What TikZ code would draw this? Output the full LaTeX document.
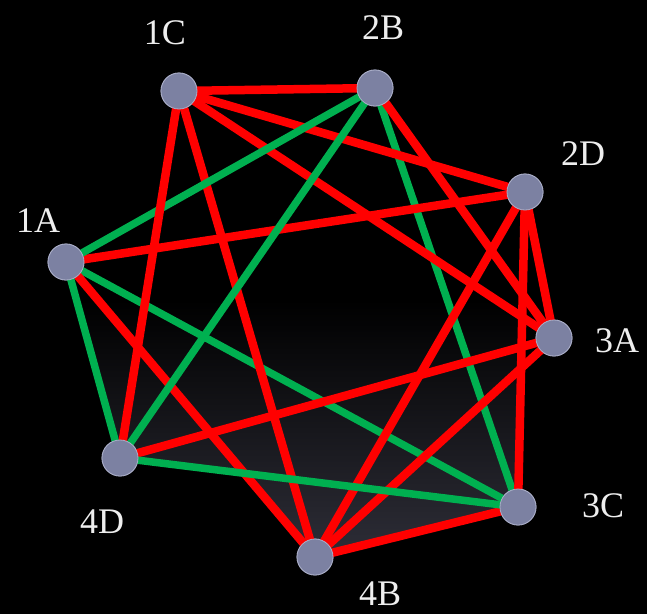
\documentclass[tikz,border=0pt]{standalone}
\usepackage{fontspec}
\setmainfont{Liberation Serif}
\definecolor{redE}{RGB}{255,0,0}
\definecolor{greenE}{RGB}{0,176,80}
\definecolor{vfill}{RGB}{124,129,162}
\definecolor{vline}{RGB}{170,174,200}
\definecolor{labc}{RGB}{238,238,238}
\definecolor{bot}{RGB}{46,46,56}
\tikzset{
  vert/.style={circle,fill=vfill,draw=vline,line width=0.8pt,minimum size=36pt,inner sep=0pt},
  lab/.style={text=labc,font=\fontsize{36}{40}\selectfont,inner sep=0pt},
  redge/.style={draw=redE,line width=8.5pt},
  gedge/.style={draw=greenE,line width=7.5pt}
}
\begin{document}
\begin{tikzpicture}[x=1pt,y=-1pt]
\fill[black] (0,0) rectangle (647,614);
\useasboundingbox (0,0) rectangle (647,614);
% vertex positions
\coordinate (p1C) at (179,91);
\coordinate (p2B) at (375,88);
\coordinate (p2D) at (525,192);
\coordinate (p3A) at (554,338);
\coordinate (p3C) at (518,507);
\coordinate (p4B) at (315,557);
\coordinate (p4D) at (120,458);
\coordinate (p1A) at (66,262);
\coordinate (pX) at (intersection of p4D--p3C and p1A--p4B);
% background shading (lower half only)
\begin{scope}
  \clip (p1C) -- (p2B) -- (p2D) -- (p3C) -- (p4B) -- (pX) -- (p4D) -- (p1A) -- cycle;
  \shade[top color=black,bottom color=bot] (0,300) rectangle (647,560);
\end{scope}
% nodes
\path (p1C) node[vert] (n1C) {};
\path (p2B) node[vert] (n2B) {};
\path (p2D) node[vert] (n2D) {};
\path (p3A) node[vert] (n3A) {};
\path (p3C) node[vert] (n3C) {};
\path (p4B) node[vert] (n4B) {};
\path (p4D) node[vert] (n4D) {};
\path (p1A) node[vert] (n1A) {};
% edges
\path[gedge] (n1A.center) -- (n3C.center);
\path[gedge] (n2B.center) -- (n3C.center);
\path[redge] (n1C.center) -- (n2B.center);
\path[redge] (n1C.center) -- (n2D.center);
\path[redge] (n1C.center) -- (n3A.center);
\path[redge] (n1C.center) -- (n4B.center);
\path[redge] (n1A.center) -- (n2D.center);
\path[redge] (n1A.center) -- (n4B.center);
\path[redge] (n2B.center) -- (n3A.center);
\path[redge] (n2D.center) -- (n3A.center);
\path[redge] (n2D.center) -- (n3C.center);
\path[redge] (n2D.center) -- (n4B.center);
\path[redge] (n3A.center) -- (n4B.center);
\path[redge] (n3A.center) -- (n4D.center);
\path[redge] (n3C.center) -- (n4B.center);
\path[gedge] (n1A.center) -- (n2B.center);
\path[gedge] (n2B.center) -- (n4D.center);
\path[gedge] (n1A.center) -- (n4D.center);
\path[gedge] (n4D.center) -- (n3C.center);
\path[redge] (n1C.center) -- (n4D.center);
% redraw nodes on top
\foreach \v in {1C,2B,2D,3A,3C,4B,4D,1A}{
  \path (p\v) node[vert] {};
}
% labels
\node[lab] (l1C) at (165,33) {1C};
\node[lab] (l2B) at (383,28) {2B};
\node[lab] (l2D) at (583,154) {2D};
\node[lab] (l3A) at (617,341) {3A};
\node[lab] (l3C) at (603,506) {3C};
\node[lab] (l4B) at (380,594) {4B};
\node[lab] (l4D) at (102,522) {4D};
\node[lab] (l1A) at (38,221) {1A};
\end{tikzpicture}
\end{document}
